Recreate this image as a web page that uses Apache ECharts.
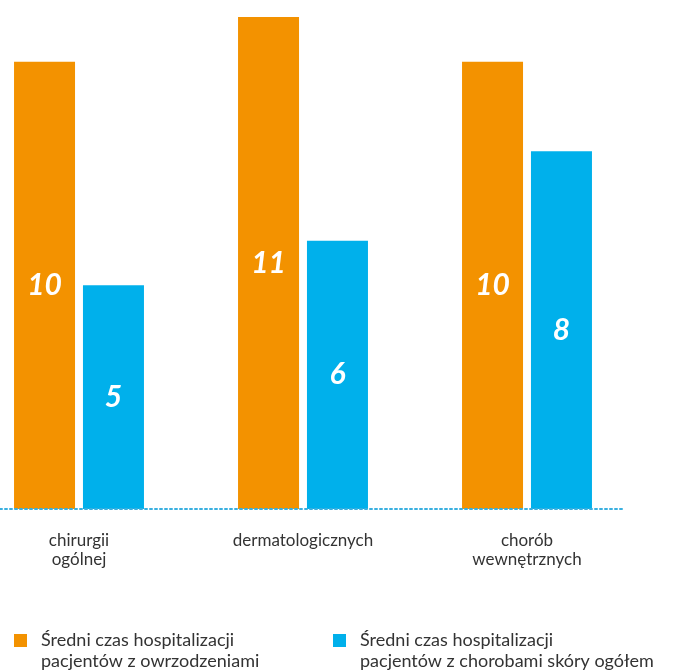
<!DOCTYPE html>
<html>
<head>
<meta charset="utf-8">
<script src="https://cdn.jsdelivr.net/npm/echarts@6/dist/echarts.min.js"></script>
<style>
  html, body { margin: 0; padding: 0; background: #fff; }
  #chart { width: 689px; height: 671px; }
</style>
</head>
<body>
<div id="chart"></div>
<script>
// --- dane ---
const categories = ['chirurgii\nogólnej', 'dermatologicznych', 'chorób\nwewnętrznych'];
const seriesNames = [
  'Średni czas hospitalizacji\npacjentów z owrzodzeniami',
  'Średni czas hospitalizacji\npacjentów z chorobami skóry ogółem'
];
const ulcerDays = [10, 11, 10];
const skinDays = [5, 6, 8];

const ORANGE = '#F39200';
const BLUE = '#00B0EB';
const FONT = 'Lato, "Noto Sans", sans-serif';

const chart = echarts.init(document.getElementById('chart'));

const barLabel = {
  show: true,
  position: 'inside',
  color: '#fff',
  fontFamily: FONT,
  fontSize: 30,
  fontWeight: 'bold',
  fontStyle: 'italic'
};

// legenda: pusta pierwsza linia, żeby kwadrat był na wysokości pierwszego wiersza
const legendBase = {
  top: 609,
  padding: 0,
  icon: 'rect',
  itemWidth: 13,
  itemHeight: 13,
  formatter: name => '\n' + name,
  textStyle: {
    fontFamily: FONT,
    fontSize: 18,
    lineHeight: 21,
    color: '#333',
    padding: [0, 0, 0, 9]
  }
};

chart.setOption({
  backgroundColor: '#fff',
  animation: false,
  legend: [
    Object.assign({}, legendBase, { left: 14, data: [seriesNames[0]] }),
    Object.assign({}, legendBase, { left: 333, data: [seriesNames[1]] })
  ],
  grid: [
    { left: -33, width: 672, top: 17, bottom: 162, outerBoundsMode: 'none' },
    { left: 0, width: 623, top: 17, bottom: 162, outerBoundsMode: 'none' }
  ],
  xAxis: [
    {
      type: 'category',
      gridIndex: 0,
      data: categories,
      axisLine: { show: false },
      axisTick: { show: false },
      axisLabel: {
        margin: 22,
        fontFamily: FONT,
        fontSize: 17,
        lineHeight: 19,
        color: '#333'
      }
    },
    {
      // tylko kropkowana linia bazowa
      type: 'category',
      gridIndex: 1,
      data: categories,
      z: 10,
      axisLine: { show: true, lineStyle: { color: '#3AB0E0', width: 2, type: [2, 3] } },
      axisTick: { show: false },
      axisLabel: { show: false }
    }
  ],
  yAxis: [
    { type: 'value', gridIndex: 0, min: 0, max: 11, show: false },
    { type: 'value', gridIndex: 1, min: 0, max: 11, show: false }
  ],
  series: [
    {
      name: seriesNames[0],
      type: 'bar',
      barWidth: 61,
      barGap: '13%',
      itemStyle: { color: ORANGE },
      label: barLabel,
      data: ulcerDays
    },
    {
      name: seriesNames[1],
      type: 'bar',
      barWidth: 61,
      barGap: '13%',
      itemStyle: { color: BLUE },
      label: barLabel,
      data: skinDays
    }
  ]
});
</script>
</body>
</html>
